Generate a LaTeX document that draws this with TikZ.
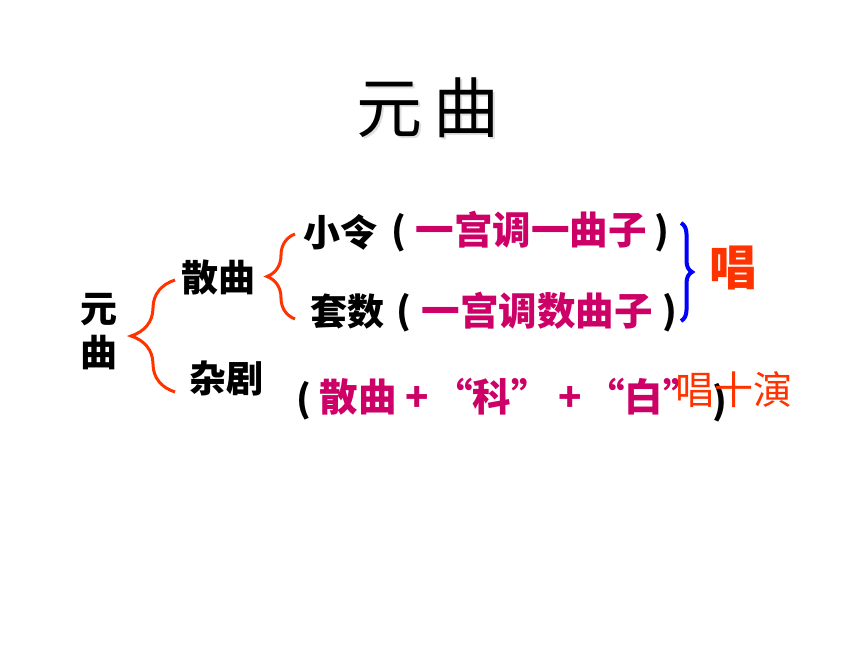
\documentclass[tikz,border=0pt]{standalone}
\usepackage{fontspec}
\setmainfont{Noto Sans CJK SC}
\usepackage{xcolor}
\usepackage{tikz}
\usetikzlibrary{decorations.pathreplacing}
\definecolor{ink}{HTML}{000000}
\definecolor{berry}{HTML}{CC0066}
\definecolor{flame}{HTML}{FF3300}
\definecolor{royal}{HTML}{0000FF}
\tikzset{
  blk/.style={text=ink, font=\fontsize{37}{40}\selectfont\bfseries, inner sep=0pt},
  mag/.style={text=berry, font=\fontsize{38.5}{40}\selectfont\bfseries, inner sep=0pt},
  hot/.style={text=flame, font=\fontsize{39}{42}\selectfont, inner sep=0pt},
  bigsing/.style={text=flame, font=\fontsize{48}{52}\selectfont\bfseries, inner sep=0pt},
  orangebrace/.style={draw=flame, line width=3pt, decorate},
  bluebrace/.style={draw=royal, line width=4pt, decorate},
}

\begin{document}
\begin{tikzpicture}[x=1pt,y=-1pt]
  \useasboundingbox[fill=white] (0,0) rectangle (860,645);

  % title with its soft shadow
  \node[text=black!12, font=\fontsize{66}{70}\selectfont, inner sep=0pt] (titleshadow) at (430,110) {元\,曲};
  \node[text=ink, font=\fontsize{66}{70}\selectfont, inner sep=0pt] (title) at (428,108) {元\,曲};

  \node[blk] (yuan) at (99,310) {元};
  \node[blk] (qu) at (99,353) {曲};
  \node[blk] (sanqu) at (218,277) {散曲};
  \node[blk] (zaju) at (226,378) {杂剧};

  \node[blk] (xiaoling) at (340,232) {小令};
  \node[blk] (lpone) at (399,233) {(};
  \node[mag] (onetune) at (531,230) {一宫调一曲子};
  \node[blk] (rpone) at (662,233) {)};

  \node[blk] (taoshu) at (347,312) {套数};
  \node[blk] (lptwo) at (404,313) {(};
  \node[mag] (manytune) at (537,311) {一宫调数曲子};
  \node[blk] (rptwo) at (670,313) {)};

  \node[bigsing] (sing) at (733,268) {唱};

  \node[blk] (lpthree) at (304,401) {(};
  \node[mag] (sanqutwo) at (358,397) {散曲};
  \node[mag] (plusone) at (417,399) {+};
  \node[mag] (ke) at (492,397) {“科”};
  \node[mag] (plustwo) at (570,399) {+};
  \node[mag] (bai) at (644,397) {“白”};
  \node[blk] (rpthree) at (720,403) {)};
  \node[hot] (singact) at (734,390) {唱十演};

  % braces
  \coordinate (bOneTop) at (175,280);
  \coordinate (bOneBot) at (175,392);
  \coordinate (bTwoTop) at (295,234);
  \coordinate (bTwoBot) at (295,319);
  \coordinate (bThrTop) at (681,223);
  \coordinate (bThrBot) at (681,321);
  \draw[orangebrace, decoration={brace, amplitude=44pt}] (bOneBot) -- (bOneTop);
  \draw[orangebrace, decoration={brace, amplitude=28pt}] (bTwoBot) -- (bTwoTop);
  \draw[bluebrace, decoration={brace, amplitude=11pt}] (bThrTop) -- (bThrBot);
\end{tikzpicture}
\end{document}
